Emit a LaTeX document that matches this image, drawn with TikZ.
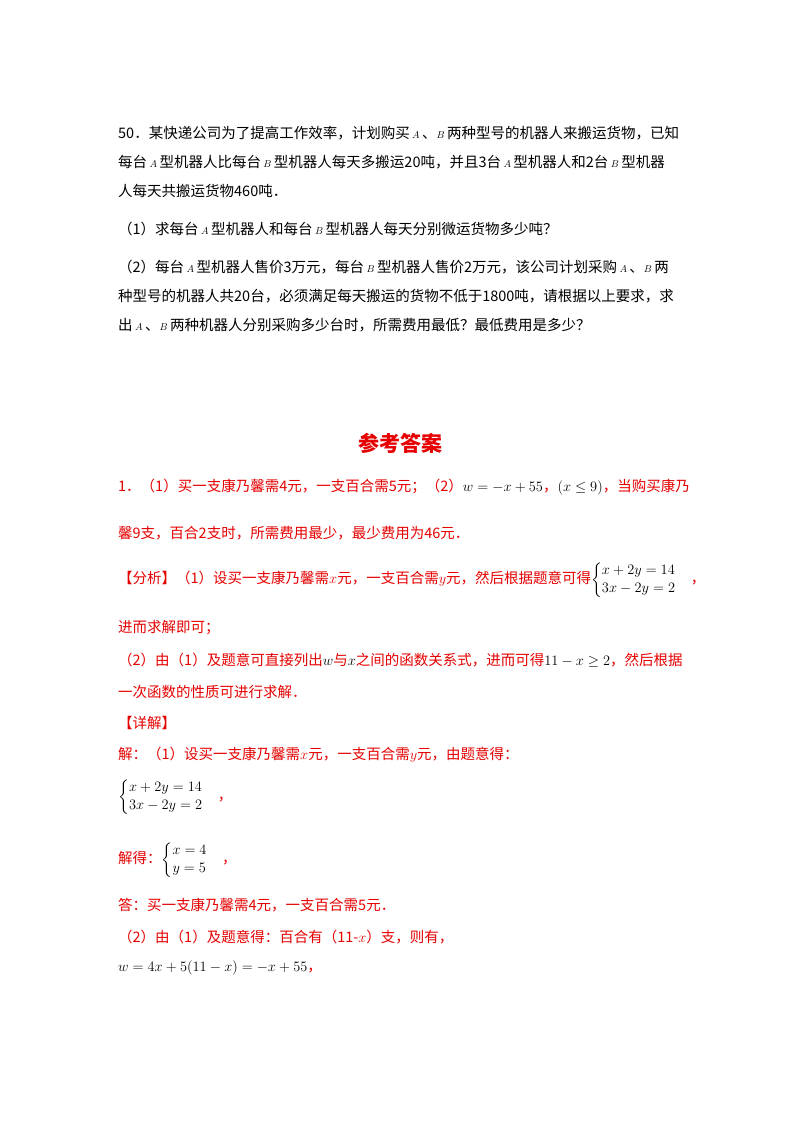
\documentclass[tikz,border=0pt]{standalone}
\usepackage{fontspec}
\usepackage{amsmath}
\newfontfamily\cjk{Noto Sans CJK SC}
\definecolor{ansred}{RGB}{230,0,0}
\begin{document}
\begin{tikzpicture}[x=1pt,y=-1pt,
  line/.style={anchor=west,inner sep=0pt,font=\cjk\fontsize{14.5}{15}\selectfont},
  red/.style={line,text=ansred}]
\useasboundingbox (0,0) rectangle (800,1132);
\fill[white] (0,0) rectangle (800,1132);
\node[line] (l1) at (118,133) {50．某快递公司为了提高工作效率，计划购买\,$\scriptstyle A$\,、$\scriptstyle B$\,两种型号的机器人来搬运货物，已知};
\node[line] (l2) at (118,162) {每台\,$\scriptstyle A$\,型机器人比每台\,$\scriptstyle B$\,型机器人每天多搬运20吨，并且3台\,$\scriptstyle A$\,型机器人和2台\,$\scriptstyle B$\,型机器};
\node[line] (l3) at (118,191) {人每天共搬运货物460吨．};
\node[line] (l4) at (118,229) {（1）求每台\,$\scriptstyle A$\,型机器人和每台\,$\scriptstyle B$\,型机器人每天分别微运货物多少吨？};
\node[line] (l5) at (118,267) {（2）每台\,$\scriptstyle A$\,型机器人售价3万元，每台\,$\scriptstyle B$\,型机器人售价2万元，该公司计划采购\,$\scriptstyle A$\,、$\scriptstyle B$\,两};
\node[line] (l6) at (118,296) {种型号的机器人共20台，必须满足每天搬运的货物不低于1800吨，请根据以上要求，求};
\node[line] (l7) at (118,325) {出\,$\scriptstyle A$\,、$\scriptstyle B$\,两种机器人分别采购多少台时，所需费用最低？最低费用是多少？};
\node[inner sep=0pt,text=ansred,font=\cjk\bfseries\fontsize{21}{22}\selectfont] (t) at (400,443) {参考答案};
\node[red] (a1) at (118,487) {1．（1）买一支康乃馨需4元，一支百合需5元；（2）\textcolor{black}{$w=-x+55$}，\textcolor{black}{$(x\le 9)$}，当购买康乃};
\node[red] (a2) at (118,533) {馨9支，百合2支时，所需费用最少，最少费用为46元．};
\node[red] (a3) at (118,580) {【分析】（1）设买一支康乃馨需$x$元，一支百合需$y$元，然后根据题意可得\textcolor{black}{$\begin{cases}x+2y=14\\3x-2y=2\end{cases}$}，};
\node[red] (a4) at (118,628) {进而求解即可；};
\node[red] (a5) at (118,660) {（2）由（1）及题意可直接列出\textcolor{black}{$w$}与\textcolor{black}{$x$}之间的函数关系式，进而可得\textcolor{black}{$11-x\ge 2$}，然后根据};
\node[red] (a6) at (118,692) {一次函数的性质可进行求解．};
\node[red] (a7) at (118,723) {【详解】};
\node[red] (a8) at (118,755) {解：（1）设买一支康乃馨需$x$元，一支百合需$y$元，由题意得：};
\node[line] (a9) at (118,797) {$\begin{cases}x+2y=14\\3x-2y=2\end{cases}$\textcolor{ansred}{，}};
\node[red] (a10) at (118,860) {解得：\textcolor{black}{$\begin{cases}x=4\\y=5\end{cases}$}，};
\node[red] (a11) at (118,905) {答：买一支康乃馨需4元，一支百合需5元．};
\node[red] (a12) at (118,937) {（2）由（1）及题意得：百合有（11-$x$）支，则有，};
\node[line] (a13) at (118,968) {$w=4x+5(11-x)=-x+55$\textcolor{ansred}{，}};
\end{tikzpicture}
\end{document}
